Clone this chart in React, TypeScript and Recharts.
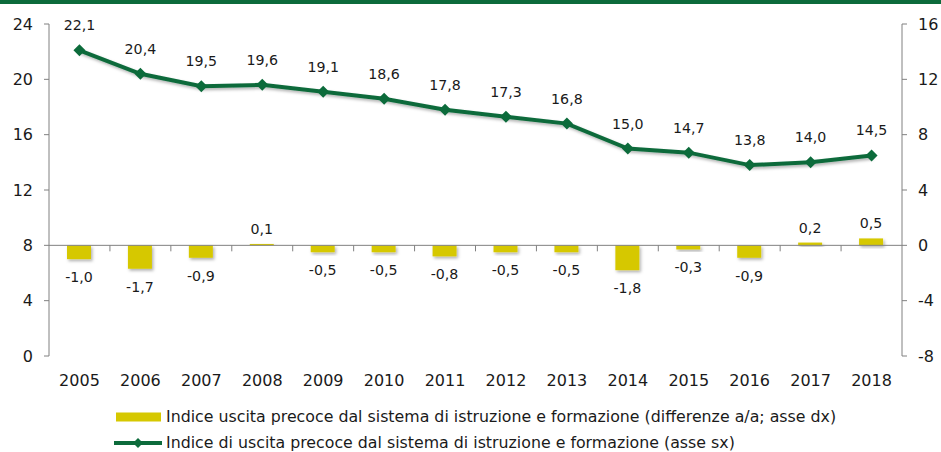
import React from 'react';
import {
  ComposedChart,
  Bar,
  Line,
  XAxis,
  YAxis,
  ReferenceLine,
  LabelList,
} from 'recharts';

const years = ['2005', '2006', '2007', '2008', '2009', '2010', '2011', '2012', '2013', '2014', '2015', '2016', '2017', '2018'];
const indexValues = [22.1, 20.4, 19.5, 19.6, 19.1, 18.6, 17.8, 17.3, 16.8, 15.0, 14.7, 13.8, 14.0, 14.5];
const diffValues = [-1.0, -1.7, -0.9, 0.1, -0.5, -0.5, -0.8, -0.5, -0.5, -1.8, -0.3, -0.9, 0.2, 0.5];
const leftTicks = [0, 4, 8, 12, 16, 20, 24];
const rightTicks = [-8, -4, 0, 4, 8, 12, 16];

const barLabel = 'Indice uscita precoce dal sistema di istruzione e formazione (differenze a/a; asse dx)';
const lineLabel = 'Indice di uscita precoce dal sistema di istruzione e formazione (asse sx)';

const GREEN = '#0c6b3b';
const YELLOW = '#d6c800';
const AXIS = '#808080';
const TEXT = '#1a1a1a';
const FONT = '"DejaVu Sans", sans-serif';

const fmt = (v: number) => v.toFixed(1).replace('.', ',');

const data = years.map((year, i) => ({
  year,
  index: indexValues[i],
  diff: diffValues[i],
}));

const Diamond = (props: any) => {
  const { cx, cy } = props;
  if (cx == null || cy == null) return null;
  const r = 6;
  return <path d={`M${cx},${cy - r}L${cx + r},${cy}L${cx},${cy + r}L${cx - r},${cy}Z`} fill={GREEN} />;
};

const LineValue = (props: any) => {
  const { x, y, value } = props;
  return (
    <text x={x} y={y - 25} textAnchor="middle" dominantBaseline="central" fontSize={14.2} fill={TEXT} fontFamily={FONT}>
      {fmt(value)}
    </text>
  );
};

const BarValue = (props: any) => {
  const { x, y, width, height, value } = props;
  const top = Math.min(y, y + height);
  const bottom = Math.max(y, y + height);
  const cy = value < 0 ? bottom + 18 : top - 15;
  return (
    <text x={x + width / 2} y={cy} textAnchor="middle" dominantBaseline="central" fontSize={14.2} fill={TEXT} fontFamily={FONT}>
      {fmt(value)}
    </text>
  );
};

// zero line of the right axis, with Excel-style ticks between categories
const ZeroLine = (props: any) => {
  const { x1, y1, x2 } = props;
  const step = (x2 - x1) / years.length;
  return (
    <g>
      <line x1={x1} y1={y1} x2={x2} y2={y1} stroke={AXIS} strokeWidth={1} />
      {years.slice(1).map((_, i) => (
        <line key={i} x1={x1 + step * (i + 1)} y1={y1} x2={x1 + step * (i + 1)} y2={y1 + 6} stroke={AXIS} strokeWidth={1} />
      ))}
    </g>
  );
};

export default function App() {
  return (
    <div style={{ position: 'absolute', left: 0, top: 0, width: 941, height: 452, background: '#fff', fontFamily: FONT }}>
      <div style={{ position: 'absolute', left: 0, top: 0, width: 941, height: 4, background: GREEN }} />
      <ComposedChart width={941} height={452} data={data} margin={{ top: 24, right: 0, left: 0, bottom: 66 }}>
        <defs>
          <filter id="shadow" x="-20%" y="-20%" width="140%" height="160%">
            <feDropShadow dx="1.5" dy="2" stdDeviation="1.5" floodColor="#000" floodOpacity="0.3" />
          </filter>
        </defs>
        <XAxis
          dataKey="year"
          axisLine={false}
          tickLine={false}
          height={30}
          tickMargin={13}
          tick={{ fill: TEXT, fontSize: 16, fontFamily: FONT }}
        />
        <YAxis
          yAxisId="left"
          domain={[0, 24]}
          ticks={leftTicks}
          width={49}
          axisLine={{ stroke: AXIS }}
          tickLine={{ stroke: AXIS }}
          tickSize={5}
          tickMargin={11}
          tick={{ fill: TEXT, fontSize: 16, fontFamily: FONT }}
        />
        <YAxis
          yAxisId="right"
          orientation="right"
          domain={[-8, 16]}
          ticks={rightTicks}
          width={39}
          axisLine={{ stroke: AXIS }}
          tickLine={{ stroke: AXIS }}
          tickSize={5}
          tickMargin={11}
          tick={{ fill: TEXT, fontSize: 16, fontFamily: FONT, textAnchor: 'start' }}
        />
        <Bar yAxisId="right" dataKey="diff" fill={YELLOW} barSize={24} isAnimationActive={false} filter="url(#shadow)">
          <LabelList dataKey="diff" content={BarValue} />
        </Bar>
        <ReferenceLine yAxisId="right" y={0} shape={ZeroLine} />
        <Line
          yAxisId="left"
          dataKey="index"
          stroke={GREEN}
          strokeWidth={4}
          dot={Diamond}
          activeDot={false}
          isAnimationActive={false}
          filter="url(#shadow)"
        >
          <LabelList dataKey="index" content={LineValue} />
        </Line>
      </ComposedChart>
      <div style={{ position: 'absolute', left: 114, top: 404, fontSize: 15.8, color: TEXT, lineHeight: '26px' }}>
        <div style={{ display: 'flex', alignItems: 'center', height: 26 }}>
          <svg width={50} height={12} style={{ marginRight: 2 }}>
            <rect x={2} y={1.5} width={45} height={9} fill={YELLOW} />
          </svg>
          <span>{barLabel}</span>
        </div>
        <div style={{ display: 'flex', alignItems: 'center', height: 26 }}>
          <svg width={50} height={12} style={{ marginRight: 2 }}>
            <line x1={0} y1={6} x2={48} y2={6} stroke={GREEN} strokeWidth={4} />
            <path d="M24,1L29,6L24,11L19,6Z" fill={GREEN} />
          </svg>
          <span>{lineLabel}</span>
        </div>
      </div>
    </div>
  );
}
